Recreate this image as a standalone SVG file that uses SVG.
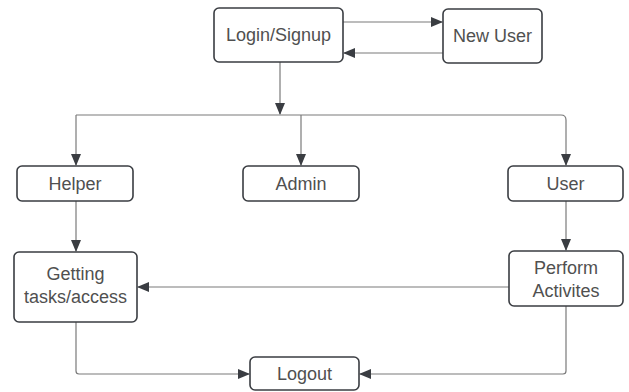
<svg xmlns="http://www.w3.org/2000/svg" width="629" height="392" viewBox="0 0 629 392">
<defs>
<marker id="ah" markerWidth="12" markerHeight="10" refX="11" refY="5" orient="auto" markerUnits="userSpaceOnUse">
<path d="M0,0 L12,5 L0,10 Z" fill="#3a3d42"/>
</marker>
<style>
.box{fill:#fff;stroke:#3a3d42;stroke-width:1.6}
.t{font-family:"Liberation Sans",Arial,sans-serif;font-size:18px;fill:#505050;text-anchor:middle;dominant-baseline:central}
.c{fill:none;stroke:#7a7a7a;stroke-width:1.2;marker-end:url(#ah)}
.n{fill:none;stroke:#7a7a7a;stroke-width:1.2}
</style>
</defs>
<rect width="629" height="392" fill="#fff"/>
<g id="connectors">
<path class="c" d="M343,22 H442"/>
<path class="c" d="M443,53 H344"/>
<path class="c" d="M280,62 V114"/>
<path class="n" d="M76,115 H561 Q566,115 566,120"/>
<path class="c" d="M76,115 V165"/>
<path class="c" d="M301,115 V165"/>
<path class="c" d="M566,120 V165"/>
<path class="c" d="M76,201 V251"/>
<path class="c" d="M566,201 V250"/>
<path class="c" d="M509,287 H138"/>
<path class="c" d="M76,322 V371 Q76,374 79,374 H249"/>
<path class="c" d="M566,306 V371 Q566,374 563,374 H360"/>
</g>
<g id="login"><rect class="box" x="214" y="8" width="129" height="54" rx="5"/><text class="t" x="278.5" y="35">Login/Signup</text></g>
<g id="newuser"><rect class="box" x="443" y="9" width="99" height="54" rx="5"/><text class="t" x="492.5" y="36">New User</text></g>
<g id="helper"><rect class="box" x="17" y="166" width="116" height="35" rx="5"/><text class="t" x="75" y="183.5">Helper</text></g>
<g id="admin"><rect class="box" x="243" y="166" width="116" height="35" rx="5"/><text class="t" x="301" y="183.5">Admin</text></g>
<g id="user"><rect class="box" x="508" y="166" width="115" height="35" rx="5"/><text class="t" x="565.5" y="183.5">User</text></g>
<g id="getting"><rect class="box" x="14" y="252" width="123" height="70" rx="5"/><text class="t" x="75.5" y="274">Getting</text><text class="t" x="75.5" y="297">tasks/access</text></g>
<g id="perform"><rect class="box" x="509" y="251" width="114" height="55" rx="5"/><text class="t" x="566" y="268">Perform</text><text class="t" x="566" y="291">Activites</text></g>
<g id="logout"><rect class="box" x="250" y="357" width="109" height="33" rx="5"/><text class="t" x="304.5" y="374">Logout</text></g>
</svg>
